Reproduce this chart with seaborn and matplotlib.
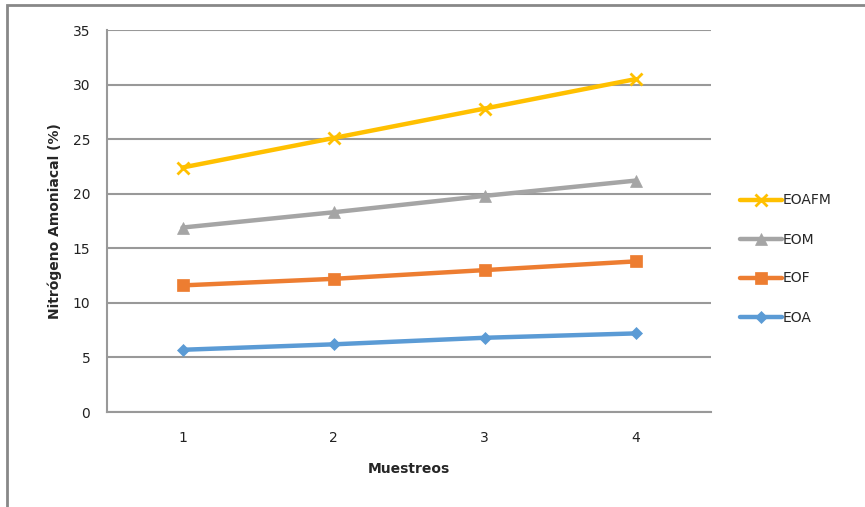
import matplotlib
matplotlib.use("Agg")
import matplotlib.pyplot as plt
import seaborn as sns
import pandas as pd
from matplotlib.lines import Line2D

muestreos = [1, 2, 3, 4]
series_names = ["EOA", "EOF", "EOM", "EOAFM"]
eoa = [5.7, 6.2, 6.8, 7.2]
eof = [11.6, 12.2, 13.0, 13.8]
eom = [16.9, 18.3, 19.8, 21.2]
eoafm = [22.4, 25.1, 27.8, 30.5]
y_ticks = [0, 5, 10, 15, 20, 25, 30, 35]

colors = {"EOA": "#5B9BD5", "EOF": "#ED7D31", "EOM": "#A5A5A5", "EOAFM": "#FFC000"}
markers = {"EOA": "D", "EOF": "s", "EOM": "^", "EOAFM": "x"}
msizes = {"EOA": 6, "EOF": 8, "EOM": 8, "EOAFM": 9}

rows = []
for name, vals in zip(series_names, [eoa, eof, eom, eoafm]):
    for m, v in zip(muestreos, vals):
        rows.append({"Muestreos": m, "valor": v, "serie": name})
df = pd.DataFrame(rows)

sns.set_style("white")
plt.rcParams["font.family"] = ["DejaVu Sans"]

fig = plt.figure(figsize=(8.65, 5.07), dpi=100)
ax = fig.add_axes([107/865, 1 - 412/507, (711-107)/865, (412-30)/507])

for name in series_names:
    sub = df[df["serie"] == name]
    sns.lineplot(data=sub, x="Muestreos", y="valor", ax=ax, color=colors[name],
                 marker=markers[name], markersize=msizes[name], linewidth=3.2,
                 markeredgewidth=2 if name == "EOAFM" else 0.5,
                 markeredgecolor=colors[name], legend=False, zorder=3)

ax.set_xlim(0.5, 4.5)
ax.set_ylim(0, 35)
ax.set_yticks(y_ticks)
ax.set_yticklabels([str(t) for t in y_ticks], fontsize=10, color="#222222")
ax.set_xticks(muestreos)
ax.set_xticklabels([str(m) for m in muestreos], fontsize=10, color="#222222")
ax.tick_params(axis="x", length=0, pad=14)
ax.set_xticks([0.5, 1.5, 2.5, 3.5, 4.5], minor=True)
ax.tick_params(axis="x", which="minor", length=5, color="#999999", width=1.5)
ax.tick_params(axis="y", length=6, color="#999999", width=1.5, pad=6)
ax.yaxis.grid(True, color="#999999", linewidth=1.5)
ax.set_axisbelow(True)
for s in ["top", "right"]:
    ax.spines[s].set_visible(False)
for s in ["left", "bottom"]:
    ax.spines[s].set_color("#999999")
    ax.spines[s].set_linewidth(1.5)

ax.set_xlabel("Muestreos", fontsize=10, fontweight="bold", labelpad=12)
ax.set_ylabel("Nitrógeno Amoniacal (%)", fontsize=10, fontweight="bold", labelpad=8)

handles = []
for name in ["EOAFM", "EOM", "EOF", "EOA"]:
    handles.append(Line2D([0], [0], color=colors[name], marker=markers[name],
                          markersize=msizes[name], linewidth=3.2,
                          markeredgewidth=2 if name == "EOAFM" else 0.5,
                          markeredgecolor=colors[name], label=name))
fig.legend(handles=handles, loc="center left", bbox_to_anchor=(740/865, 1 - 259/507),
           frameon=False, fontsize=10, handlelength=3, labelspacing=1.8,
           handletextpad=0.1, borderaxespad=0, borderpad=0)

frame = plt.Rectangle((7/865, -0.01), 1.0, 1 - 5/507 + 0.01, transform=fig.transFigure,
                      fill=False, edgecolor="#888888", linewidth=2, clip_on=False)
fig.add_artist(frame)

fig.savefig("out.png", dpi=100)
